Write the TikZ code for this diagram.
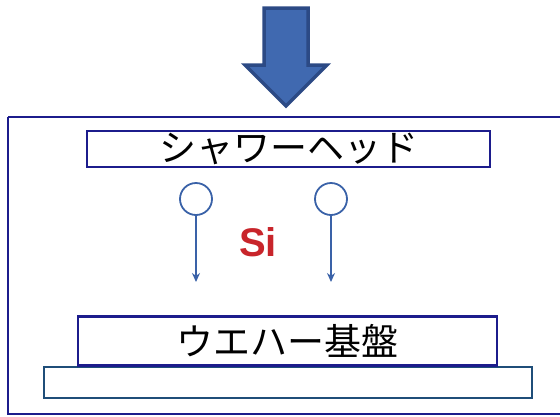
\documentclass[tikz,border=0pt]{standalone}
\usepackage{fontspec}
\setmainfont{Liberation Sans}
\newfontfamily\jpfont{Noto Sans CJK JP}
\definecolor{navy}{HTML}{1C1C8C}
\definecolor{plate}{HTML}{1F4E79}
\definecolor{arrowfill}{HTML}{4069B0}
\definecolor{arrowline}{HTML}{2C4A85}
\definecolor{molblue}{HTML}{3A62A8}
\definecolor{sired}{HTML}{C8252B}
\tikzset{
  boxstyle/.style={draw=navy, line width=2.2pt, fill=white},
  platestyle/.style={draw=plate, line width=2.2pt, fill=white},
  molstyle/.style={draw=molblue, line width=1.8pt, circle, minimum size=32pt, inner sep=0pt},
  fallstyle/.style={draw=molblue, line width=1.4pt, -{Stealth[length=9pt,width=8pt]}},
  jptext/.style={font=\jpfont\fontsize{37}{40}\selectfont},
}
\usetikzlibrary{arrows.meta}
\begin{document}
\begin{tikzpicture}[x=1pt,y=-1pt]
\useasboundingbox (0,0) rectangle (560,416);
% outer chamber
\draw[navy, line width=2pt] (8,117) -- (575,117) (8,117) -- (8,414) -- (575,414);
% big arrow
\draw[arrowline, fill=arrowfill, line width=3.5pt, line join=miter]
  (264,8) -- (308,8) -- (308,65) -- (327,65) -- (286,106) -- (245,65) -- (264,65) -- cycle;
% shower head
\node[boxstyle, minimum width=403pt, minimum height=36pt, inner sep=0pt, jptext] (shower) at (288.5,149) {シャワーヘッド};
% molecules
\node[molstyle] (m1) at (196,199) {};
\node[molstyle] (m2) at (331,199) {};
\coordinate (e1) at (196,282);
\coordinate (e2) at (331,282);
\draw[fallstyle] (m1.south) -- (e1);
\draw[fallstyle] (m2.south) -- (e2);
\node[text=sired, font=\bfseries\fontsize{40}{44}\selectfont] (si) at (258,242) {Si};
% lower plate
\node[platestyle, minimum width=488pt, minimum height=31pt, inner sep=0pt] (stage) at (288,382.5) {};
% wafer
\node[boxstyle, minimum width=419pt, minimum height=49pt, inner sep=0pt, jptext] (wafer) at (287.5,341) {ウエハー基盤};
\end{tikzpicture}
\end{document}
